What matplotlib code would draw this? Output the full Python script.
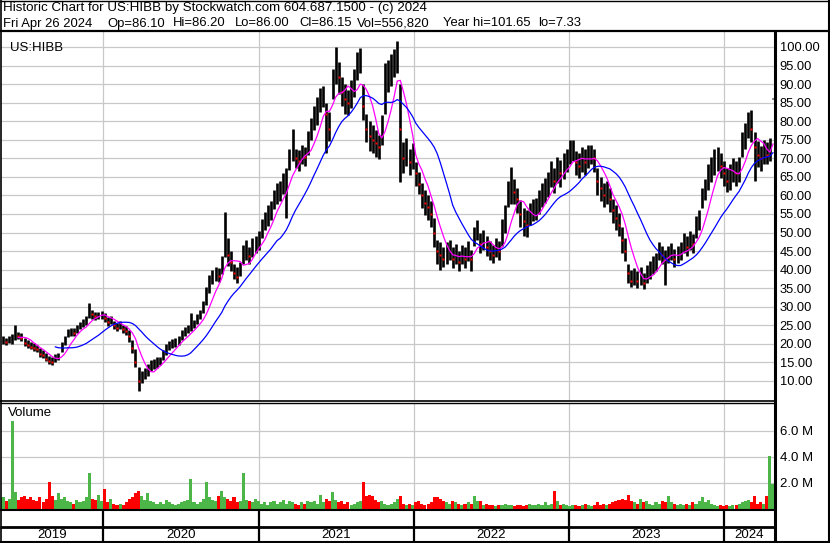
import matplotlib
matplotlib.use("Agg")
import matplotlib.pyplot as plt
import matplotlib.dates as mdates
import pandas as pd
import numpy as np

plt.rcParams['font.family'] = ['Liberation Sans', 'DejaVu Sans']

# weekly bars (May 2019 .. Apr 26 2024)
week_close = [
    21.0, 20.5, 21.2, 22.0, 23.5, 22.0, 21.5, 20.2, 19.8, 19.2,
    19.0, 18.6, 17.4, 17.0, 16.0, 15.4, 15.0, 16.2, 16.6, 19.6,
    21.0, 23.0, 23.4, 23.0, 24.0, 25.0, 25.6, 26.2, 29.0, 28.0,
    27.4, 27.6, 28.0, 27.0, 26.0, 26.4, 25.0, 24.4, 25.0, 24.0,
    23.4, 22.0, 19.0, 15.2, 10.0, 11.0, 12.0, 13.0, 14.0, 14.6,
    15.0, 15.4, 17.0, 18.6, 19.6, 20.0, 20.6, 21.0, 22.6, 23.4,
    24.0, 25.0, 25.4, 26.6, 28.0, 30.0, 33.0, 36.2, 38.0, 39.0,
    38.4, 41.0, 50.0, 44.0, 42.0, 39.0, 38.0, 40.2, 44.0, 45.2,
    43.6, 46.0, 47.0, 48.0, 51.0, 53.0, 54.6, 56.0, 59.0, 60.6,
    61.0, 63.0, 64.0, 70.0, 73.0, 70.0, 69.4, 71.0, 70.4, 74.0,
    78.0, 81.0, 82.0, 86.0, 87.0, 82.0, 78.0, 91.0, 95.0, 92.0,
    88.0, 86.0, 85.0, 87.0, 90.0, 95.0, 97.0, 84.0, 78.0, 76.0,
    75.0, 74.0, 73.0, 77.0, 88.0, 92.0, 94.0, 96.0, 98.0, 78.0,
    70.0, 72.0, 69.0, 71.0, 66.0, 63.0, 60.0, 58.0, 57.0, 55.0,
    50.0, 45.0, 44.0, 43.0, 44.0, 45.0, 43.0, 44.0, 42.0, 44.0,
    43.0, 45.0, 43.0, 49.0, 51.0, 47.0, 48.0, 46.0, 45.0, 44.0,
    46.0, 45.0, 50.0, 54.0, 60.0, 62.0, 61.0, 59.0, 55.0, 53.0,
    52.0, 55.0, 56.0, 56.0, 58.0, 60.0, 61.0, 63.0, 66.0, 64.0,
    67.0, 66.0, 68.0, 70.0, 71.0, 72.0, 69.0, 68.0, 70.0, 69.0,
    71.0, 72.0, 70.0, 64.0, 62.0, 60.0, 61.0, 59.0, 56.0, 54.0,
    52.0, 48.0, 45.0, 39.0, 37.0, 38.0, 37.0, 38.0, 36.5, 38.5,
    40.0, 41.0, 42.0, 45.0, 44.0, 43.0, 44.0, 45.0, 43.0, 44.0,
    45.0, 47.0, 46.0, 48.0, 47.0, 51.0, 53.0, 59.0, 62.0, 65.0,
    67.0, 69.0, 70.0, 68.0, 66.0, 64.0, 65.0, 67.0, 66.0, 67.0,
    74.0, 76.0, 80.0, 78.0, 73.0, 71.0, 70.0, 72.0, 71.0, 73.0, 86.15,
]
week_low = [
    20.0, 19.8, 20.2, 20.0, 21.0, 21.2, 20.8, 19.5, 19.0, 18.6,
    18.2, 17.8, 16.6, 16.2, 15.4, 14.6, 14.3, 15.0, 15.6, 17.8,
    19.8, 21.8, 22.2, 22.0, 22.8, 24.0, 24.6, 25.0, 27.0, 26.8,
    26.4, 26.6, 26.8, 26.0, 24.8, 25.4, 24.0, 23.4, 24.0, 23.0,
    22.4, 20.4, 17.6, 13.8, 7.33, 9.4, 10.6, 11.4, 12.6, 13.2,
    13.6, 14.2, 15.6, 17.0, 18.4, 18.8, 19.2, 19.8, 21.0, 22.0,
    22.8, 23.6, 24.2, 25.4, 26.6, 28.4, 30.4, 33.6, 36.2, 37.0,
    36.6, 38.8, 43.4, 41.0, 39.6, 37.4, 36.4, 38.2, 41.6, 42.6,
    41.4, 43.4, 44.4, 45.2, 48.6, 50.6, 51.8, 53.4, 56.4, 57.6,
    58.4, 60.4, 54.0, 66.8, 69.4, 67.4, 66.6, 68.4, 67.8, 71.0,
    75.0, 77.6, 79.0, 82.6, 83.8, 71.4, 74.6, 86.0, 90.0, 87.4,
    84.0, 82.0, 81.6, 83.6, 86.4, 91.0, 93.0, 80.4, 74.4, 72.0,
    71.4, 70.3, 69.8, 73.6, 82.0, 88.0, 89.6, 92.0, 93.0, 63.6,
    66.0, 68.0, 65.6, 67.0, 62.6, 60.4, 56.6, 54.6, 53.4, 51.6,
    46.0, 41.6, 40.0, 40.6, 41.6, 42.6, 40.4, 41.6, 39.6, 41.4,
    40.4, 42.4, 39.6, 46.4, 48.0, 44.6, 45.4, 43.8, 42.6, 41.8,
    43.4, 42.6, 46.4, 49.8, 57.0, 57.6, 57.6, 55.4, 51.4, 49.0,
    48.8, 52.0, 53.0, 53.4, 55.0, 57.0, 58.0, 59.6, 62.4, 60.6,
    63.4, 62.4, 64.4, 66.4, 68.4, 69.4, 65.4, 64.8, 66.4, 65.6,
    67.4, 68.4, 66.4, 60.0, 58.6, 57.0, 57.6, 55.6, 52.6, 50.6,
    49.0, 44.6, 42.4, 36.4, 35.2, 35.8, 35.0, 35.8, 34.8, 36.4,
    37.6, 38.8, 39.6, 42.6, 41.6, 36.0, 41.8, 42.6, 40.8, 41.8,
    42.6, 44.6, 43.8, 45.4, 44.6, 48.6, 50.6, 56.6, 58.8, 61.6,
    63.6, 65.6, 66.6, 64.6, 62.6, 60.8, 61.6, 63.6, 62.6, 63.6,
    70.4, 72.6, 75.4, 74.4, 64.0, 67.6, 66.6, 68.6, 68.4, 69.4, 86.0,
]
week_high = [
    22.0, 21.6, 22.0, 22.6, 25.2, 23.2, 22.8, 21.5, 21.0, 20.4,
    20.2, 19.8, 19.0, 18.4, 17.6, 16.8, 16.4, 17.2, 17.6, 20.6,
    22.2, 24.0, 24.4, 24.2, 25.0, 26.0, 26.6, 27.4, 31.0, 29.0,
    28.6, 28.6, 28.8, 28.2, 27.2, 27.4, 26.2, 25.6, 26.2, 25.2,
    24.8, 23.8, 21.0, 18.6, 13.8, 12.8, 13.6, 14.6, 15.6, 16.0,
    16.4, 16.6, 18.4, 20.0, 20.8, 21.2, 21.6, 22.2, 23.8, 24.6,
    25.2, 28.3, 26.4, 28.0, 29.2, 31.6, 35.4, 38.6, 40.0, 40.8,
    40.4, 43.6, 55.5, 48.6, 45.0, 41.6, 40.6, 42.0, 46.6, 48.0,
    46.0, 48.4, 49.2, 50.4, 53.6, 55.6, 57.4, 58.4, 61.6, 63.4,
    64.0, 66.0, 67.4, 72.6, 78.0, 72.6, 72.2, 73.6, 73.0, 77.4,
    81.0, 84.0, 86.4, 89.0, 89.6, 85.0, 82.6, 94.0, 100.0, 96.0,
    92.0, 90.0, 88.4, 91.0, 94.0, 98.6, 99.6, 90.0, 82.0, 80.0,
    79.0, 77.6, 76.2, 81.6, 95.6, 96.4, 98.0, 99.4, 101.65, 90.0,
    74.4, 75.6, 72.6, 74.0, 69.0, 66.4, 63.4, 61.4, 60.0, 58.4,
    54.0, 48.0, 47.4, 46.2, 47.4, 48.0, 46.0, 47.0, 45.0, 46.6,
    46.0, 47.6, 45.4, 51.4, 53.4, 50.0, 50.6, 49.0, 47.6, 46.6,
    48.6, 47.6, 53.6, 57.4, 64.0, 67.7, 64.4, 62.0, 58.8, 56.6,
    56.0, 58.0, 59.0, 59.4, 61.4, 63.4, 64.6, 66.4, 69.4, 67.4,
    70.4, 69.6, 71.4, 72.6, 75.0, 75.0, 72.0, 71.4, 73.0, 72.4,
    73.6, 73.6, 72.4, 67.4, 65.0, 63.4, 64.0, 62.0, 59.0, 57.4,
    55.4, 51.4, 48.6, 41.6, 39.8, 40.4, 39.6, 40.6, 39.0, 41.2,
    42.4, 43.6, 44.6, 47.4, 46.4, 45.4, 46.4, 47.2, 45.6, 46.4,
    47.4, 50.0, 49.0, 50.4, 49.6, 54.4, 56.0, 62.0, 64.4, 68.4,
    70.4, 72.4, 73.0, 71.4, 69.4, 67.4, 68.4, 70.0, 69.4, 70.4,
    77.0, 79.4, 82.6, 83.0, 77.0, 74.6, 73.4, 75.0, 74.4, 75.4, 86.2,
]
# volume in millions of shares
volume_m = [
    0.9, 0.6, 0.8, 6.8, 1.3, 0.7, 0.9, 1.0, 0.8, 0.9,
    0.7, 0.6, 0.9, 0.5, 0.8, 2.1, 1.0, 0.7, 1.2, 0.8,
    0.9, 0.6, 0.5, 0.4, 0.7, 0.5, 0.6, 0.9, 2.8, 0.8,
    0.7, 1.1, 0.6, 1.5, 0.5, 0.8, 0.4, 0.3, 0.4, 0.3,
    0.5, 0.8, 0.9, 1.2, 1.4, 1.0, 0.7, 1.2, 0.6, 0.5,
    0.4, 0.5, 0.4, 0.7, 0.5, 0.4, 0.3, 0.4, 0.5, 0.6,
    0.7, 2.3, 0.5, 0.4, 0.5, 0.8, 2.1, 0.9, 0.7, 0.6,
    1.0, 1.4, 0.9, 0.8, 0.6, 0.9, 0.5, 0.6, 2.8, 0.7,
    0.6, 0.5, 0.8, 0.6, 0.4, 0.5, 0.3, 0.5, 0.6, 0.4,
    0.5, 0.7, 0.4, 0.6, 0.5, 0.4, 0.3, 0.5, 0.4, 0.6,
    0.5, 0.6, 0.4, 1.1, 0.5, 0.8, 0.6, 1.3, 0.7, 0.5,
    0.6, 0.4, 0.5, 0.3, 0.4, 0.5, 0.6, 2.1, 1.0, 1.1,
    1.0, 0.7, 0.5, 0.6, 0.4, 0.3, 0.4, 0.5, 0.8, 1.0,
    0.4, 0.3, 0.4, 0.3, 0.5, 0.6, 0.4, 0.3, 0.4, 0.5,
    0.9, 0.9, 0.8, 0.6, 0.5, 0.4, 0.6, 0.5, 0.4, 0.3,
    0.4, 0.5, 0.4, 1.0, 0.6, 0.6, 0.3, 0.4, 0.3, 0.3,
    0.2, 0.3, 0.3, 0.4, 0.3, 0.3, 0.2, 0.3, 0.3, 0.2,
    0.3, 0.4, 0.3, 0.3, 0.4, 0.3, 0.5, 0.3, 0.4, 1.4,
    0.6, 0.3, 0.4, 0.3, 0.2, 0.3, 0.3, 0.2, 0.3, 0.4,
    0.3, 0.2, 0.3, 0.5, 0.3, 0.4, 0.3, 0.4, 0.5, 0.6,
    0.7, 0.8, 0.7, 1.1, 0.6, 0.5, 0.4, 0.8, 0.5, 0.6,
    0.4, 0.3, 0.5, 0.4, 0.6, 0.5, 1.0, 0.5, 0.4, 0.3,
    0.4, 0.3, 0.4, 0.3, 0.5, 0.4, 0.6, 0.9, 0.5, 0.7,
    0.4, 0.3, 0.2, 0.3, 0.2, 0.3, 0.2, 0.3, 0.3, 0.4,
    0.5, 0.6, 0.7, 0.5, 1.0, 0.4, 0.5, 0.4, 1.0, 4.1, 1.9,
]

price_ticks = [10, 15, 20, 25, 30, 35, 40, 45, 50, 55, 60, 65, 70, 75, 80, 85, 90, 95, 100]
volume_ticks = [2.0, 4.0, 6.0]
years = [2019, 2020, 2021, 2022, 2023, 2024]

header1 = "Historic Chart for US:HIBB by Stockwatch.com 604.687.1500 - (c) 2024"
header2 = ["Fri Apr 26 2024", "Op=86.10", "Hi=86.20", "Lo=86.00", "Cl=86.15",
           "Vol=556,820", "Year hi=101.65", "lo=7.33"]
header2_x = [3, 107, 173, 235, 299, 357, 443, 538]

W, H = 830, 543
GRID = '#c8c8c8'
GREEN = '#4cb648'

df = pd.DataFrame({'close': week_close, 'low': week_low, 'high': week_high, 'vol': volume_m})
df['date'] = pd.date_range('2019-05-10', '2024-04-26', periods=len(df))
df['x'] = mdates.date2num(df['date'])
df['ma_short'] = df['close'].rolling(6).mean()
df['ma_long'] = df['close'].rolling(18).mean()
df['up'] = df['close'].diff().fillna(1) >= 0

px_day = (df['x'].iloc[-1] - df['x'].iloc[0]) / 770.0
xlim = (df['x'].iloc[0] - 2 * px_day, df['x'].iloc[-1] + 1 * px_day)
bar_w = (df['x'].iloc[1] - df['x'].iloc[0]) * 1.0

fig = plt.figure(figsize=(W / 100, H / 100), dpi=100)


def px_axes(x0, y0, x1, y1):
    return fig.add_axes([x0 / W, 1 - y1 / H, (x1 - x0) / W, (y1 - y0) / H])


year_starts = [mdates.date2num(pd.Timestamp(f'{y}-01-01')) for y in years[1:]]

# price panel
ax = px_axes(1, 32, 774, 400)
ax.set_xlim(xlim)
ax.set_ylim(4.88, 104.04)
for p in price_ticks:
    ax.axhline(p, color=GRID, lw=0.9, zorder=0)
for xs in year_starts:
    ax.axvline(xs, color=GRID, lw=0.9, zorder=0)
ax.vlines(df['x'], df['low'], df['high'], color='black', lw=1.9, zorder=2)
down = df[~df['up']]
ax.plot(down['x'], down['close'], 's', color='red', ms=1.6, mec='none', zorder=3)
ax.plot(df['x'], df['ma_short'], color='#ff00ff', lw=0.9, zorder=4)
ax.plot(df['x'], df['ma_long'], color='#0000ff', lw=0.9, zorder=4)
ax.yaxis.tick_right()
ax.set_yticks(price_ticks)
ax.set_yticklabels([f'{p:.2f}' for p in price_ticks])
ax.tick_params(axis='y', length=0, pad=4, labelsize=9.3)
ax.set_xticks([])
for s in ax.spines.values():
    s.set_visible(False)
ax.text(0.011, 0.972, 'US:HIBB', transform=ax.transAxes, fontsize=9.5, va='top')

# volume panel
av = px_axes(1, 403, 774, 509)
av.set_xlim(xlim)
av.set_ylim(0, 8.15)
for v in volume_ticks:
    av.axhline(v, color=GRID, lw=0.9, zorder=0)
for xs in year_starts:
    av.axvline(xs, color=GRID, lw=0.9, zorder=0)
av.bar(df['x'], df['vol'], width=bar_w, color=np.where(df['up'], GREEN, 'red'), lw=0, zorder=2)
av.yaxis.tick_right()
av.set_yticks(volume_ticks)
av.set_yticklabels([f'{v:.1f} M' for v in volume_ticks])
av.tick_params(axis='y', length=0, pad=4, labelsize=9.5)
av.set_xticks([])
for s in av.spines.values():
    s.set_visible(False)
av.text(0.009, 0.96, 'Volume', transform=av.transAxes, fontsize=9.5, va='top')

# year strip
ay = px_axes(1, 510, 774, 541)
ay.set_xlim(xlim)
ay.set_ylim(0, 1)
ay.axis('off')
for xs in year_starts:
    ay.axvline(xs, color='black', lw=1.6)
bounds = [xlim[0]] + year_starts + [xlim[1]]
for y, a, b in zip(years, bounds[:-1], bounds[1:]):
    ay.text((a + b) / 2, 0.18, str(y), ha='center', va='center', fontsize=9.5)

# frame lines
fr = fig.add_axes([0, 0, 1, 1], facecolor='none')
fr.set_xlim(0, W)
fr.set_ylim(H, 0)
fr.axis('off')
k = dict(color='black', solid_capstyle='butt')
fr.plot([0, W], [31, 31], lw=1.6, **k)
fr.plot([0.5, 0.5], [0, H], lw=1.2, **k)
fr.plot([828.5, 828.5], [0, H], lw=1.5, **k)
fr.plot([0, W], [0.5, 0.5], lw=1.0, **k)
fr.plot([0, W], [541.8, 541.8], lw=1.5, **k)
fr.plot([775, 775], [31, 542], lw=2.2, **k)
fr.plot([0, 775], [400.5, 400.5], lw=1.2, **k)
fr.plot([0, 775], [402.8, 402.8], lw=1.0, **k)
fr.plot([0, 775], [509.8, 509.8], lw=1.5, **k)
fr.plot([0, 775], [527, 527], lw=2.0, **k)
fr.text(3, 8.5, header1, fontsize=9.6, va='center')
for t, xp in zip(header2, header2_x):
    fr.text(xp, 23.5, t, fontsize=9.4, va='center')

fig.savefig('out.png', dpi=100)
